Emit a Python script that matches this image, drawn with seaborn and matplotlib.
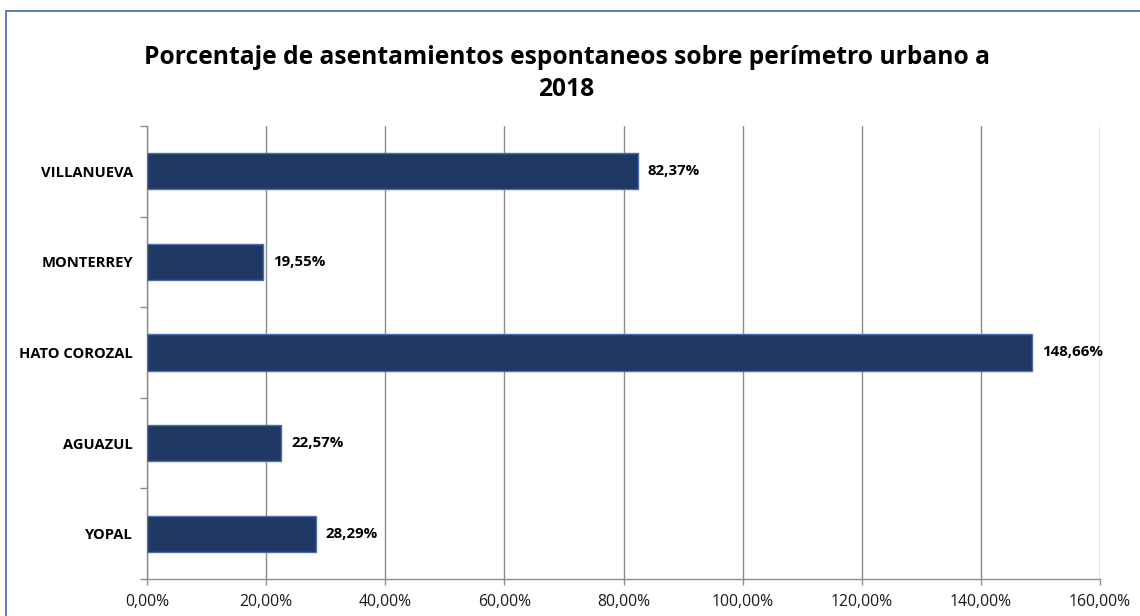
import matplotlib
matplotlib.use("Agg")
import matplotlib.pyplot as plt
import seaborn as sns
import pandas as pd
import numpy as np
from matplotlib.patches import Rectangle
from matplotlib.ticker import FuncFormatter, MultipleLocator, FixedLocator

categories = ["VILLANUEVA", "MONTERREY", "HATO COROZAL", "AGUAZUL", "YOPAL"]
values = [82.37, 19.55, 148.66, 22.57, 28.29]
title_lines = ["Porcentaje de asentamientos espontaneos sobre perímetro urbano a", "2018"]

sns.set_theme(style="white")
plt.rcParams['font.family'] = ['Open Sans', 'DejaVu Sans']

fig = plt.figure(figsize=(11.4, 6.16), dpi=100)
ax = fig.add_axes([147/1140, 1-579/616, (1100-147)/1140, (579-126)/616])

df = pd.DataFrame({"cat": categories, "val": values})
sns.barplot(data=df, y="cat", x="val", order=categories, orient="h",
            color="#203864", edgecolor="#4A6FB0", linewidth=1.0,
            width=0.4, saturation=1, ax=ax, zorder=3)

ax.set_xlim(0, 160)
ax.set_ylim(4.5, -0.5)
ax.xaxis.set_major_locator(MultipleLocator(20))
ax.xaxis.set_major_formatter(FuncFormatter(lambda v, p: f"{v:.2f}%".replace(".", ",")))
ax.grid(axis="x", color="#8c8c8c", linewidth=1.0, zorder=0)
ax.grid(axis="y", visible=False)
ax.set_axisbelow(True)
ax.set_xlabel("")
ax.set_ylabel("")

for s in ["top", "right"]:
    ax.spines[s].set_visible(False)
for s in ["left", "bottom"]:
    ax.spines[s].set_color("#8c8c8c")
    ax.spines[s].set_linewidth(1.0)

ax.tick_params(axis="x", which="major", bottom=True, length=4, width=1, color="#8c8c8c",
               labelsize=11.3, labelcolor="#1a1a1a", pad=7)
ax.tick_params(axis="y", which="major", left=False, length=0, pad=10,
               labelsize=10.6, labelcolor="#000000")
ax.yaxis.set_minor_locator(FixedLocator(np.arange(-0.5, 5.0, 1.0)))
ax.tick_params(axis="y", which="minor", left=True, length=5, width=1, color="#8c8c8c")
for lbl in ax.get_yticklabels():
    lbl.set_fontweight("bold")

labels = [f"{v:.2f}%".replace(".", ",") for v in values]
ax.bar_label(ax.containers[0], labels=labels, padding=7, fontsize=10.8,
             fontweight="bold", color="#000000")

fig.text(0.497, 1-57/616, title_lines[0], ha="center", va="center",
         fontsize=17.7, fontweight="bold", color="#000000")
fig.text(0.497, 1-89/616, title_lines[1], ha="center", va="center",
         fontsize=17.7, fontweight="bold", color="#000000")

border = Rectangle((6/1140, -0.2), 1.5, 1.2 - 11/616, transform=fig.transFigure,
                   fill=False, edgecolor="#4F72B8", linewidth=1.3, clip_on=False)
fig.patches.append(border)

fig.savefig("out.png", dpi=100)
